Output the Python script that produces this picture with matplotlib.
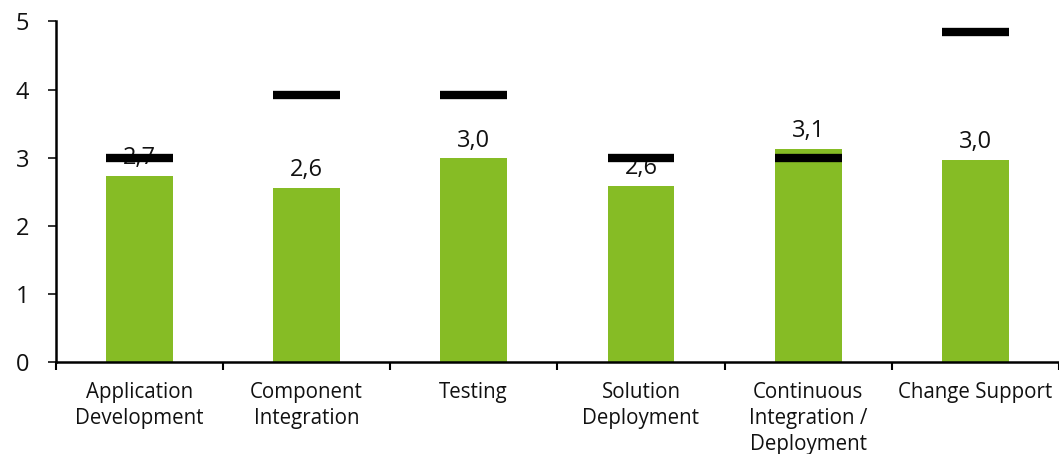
import matplotlib
matplotlib.use("Agg")
import matplotlib.pyplot as plt
import numpy as np

categories = ["Application\nDevelopment", "Component\nIntegration", "Testing",
              "Solution\nDeployment", "Continuous\nIntegration /\nDeployment",
              "Change Support"]
current = [2.73, 2.56, 2.99, 2.59, 3.13, 2.97]
target = [3.0, 3.92, 3.92, 3.0, 3.0, 4.85]
value_labels = ["2,7", "2,6", "3,0", "2,6", "3,1", "3,0"]

plt.rcParams["font.family"] = ["Open Sans", "DejaVu Sans"]

fig = plt.figure(figsize=(10.59, 4.54), dpi=100)
ax = fig.add_axes([55.7 / 1059, 92 / 454, 1 - 55.7 / 1059, (362.3 - 21.7) / 454])

x = np.arange(len(categories))
bar_w = 0.4
ax.bar(x, current, width=bar_w, color="#86BC25", zorder=2)

for xi, v, lab in zip(x, current, value_labels):
    ax.annotate(lab, (xi, v), xytext=(0, 8.5), textcoords="offset points",
                ha="center", va="baseline", fontsize=17, color="#111111", zorder=3)

ax.hlines(target, x - bar_w / 2, x + bar_w / 2, colors="black", linewidth=6.0,
          capstyle="butt", zorder=4)

ax.set_xlim(-0.5, len(categories) - 0.5)
ax.set_ylim(0, 5)
ax.set_yticks(range(6))
ax.tick_params(axis="y", labelsize=17, length=6, width=1.2, pad=13, colors="#111111")

ax.set_xticks(np.arange(-0.5, len(categories), 1.0))
ax.set_xticklabels([])
ax.tick_params(axis="x", which="major", length=6, width=1.5, direction="out")
ax.set_xticks(x, minor=True)
ax.set_xticklabels(categories, minor=True, fontsize=14.8, linespacing=1.3)
ax.tick_params(axis="x", which="minor", length=0, pad=14.5, colors="#111111")

for s in ["top", "right"]:
    ax.spines[s].set_visible(False)
for s in ["left", "bottom"]:
    ax.spines[s].set_linewidth(1.8)
    ax.spines[s].set_color("black")

fig.savefig("out.png", dpi=100)
